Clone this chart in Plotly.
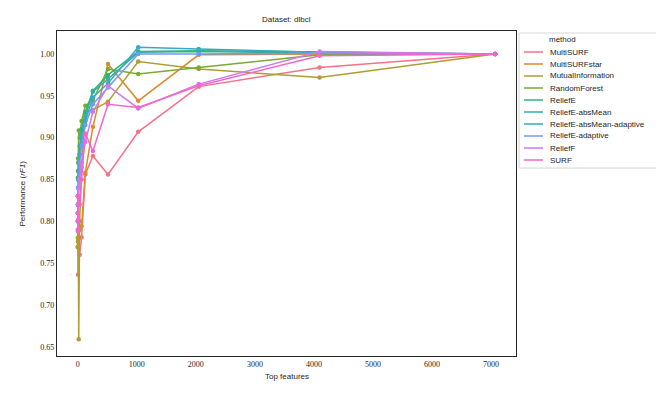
import plotly.graph_objects as go

# number of top features used
top_features = [1, 2, 4, 8, 16, 32, 64, 128, 256, 512, 1024, 2048, 4096, 7070]

methods = ["MultiSURF", "MultiSURFstar", "MutualInformation", "RandomForest", "ReliefE",
           "ReliefE-absMean", "ReliefE-absMean-adaptive", "ReliefE-adaptive", "ReliefF", "SURF"]

multisurf = [0.79, 0.80, 0.736, 0.77, 0.78, 0.760, 0.781, 0.856, 0.878, 0.856, 0.907, 0.961, 0.984, 1.0]
multisurfstar = [0.77, 0.78, 0.79, 0.80, 0.78, 0.79, 0.794, 0.858, 0.913, 0.988, 0.944, 0.999, 1.0, 1.0]
mutual_information = [0.769, 0.776, 0.78, 0.79, 0.659, 0.80, 0.865, 0.931, 0.933, 0.943, 0.991, 0.982, 0.972, 1.0]
random_forest = [0.852, 0.86, 0.875, 0.87, 0.9085, 0.90, 0.92, 0.938, 0.945, 0.982, 0.976, 0.984, 0.999, 1.0]
reliefe = [0.82, 0.83, 0.84, 0.85, 0.87, 0.89, 0.91, 0.93, 0.956, 0.975, 1.003, 1.004, 1.002, 1.0]
reliefe_absmean = [0.81, 0.82, 0.83, 0.85, 0.86, 0.88, 0.90, 0.925, 0.955, 0.970, 1.002, 1.003, 1.001, 1.0]
reliefe_absmean_adaptive = [0.80, 0.81, 0.83, 0.84, 0.86, 0.88, 0.90, 0.92, 0.948, 0.965, 1.008, 1.006, 1.002, 1.0]
reliefe_adaptive = [0.80, 0.81, 0.82, 0.84, 0.85, 0.87, 0.89, 0.915, 0.94, 0.96, 1.000, 1.000, 1.001, 1.0]
relieff = [0.79, 0.80, 0.82, 0.83, 0.84, 0.85, 0.87, 0.895, 0.931, 0.962, 0.935, 0.964, 1.003, 1.0]
surf = [0.83, 0.788, 0.81, 0.802, 0.83, 0.82, 0.85, 0.905, 0.884, 0.940, 0.936, 0.962, 0.998, 1.0]

series = [multisurf, multisurfstar, mutual_information, random_forest, reliefe,
          reliefe_absmean, reliefe_absmean_adaptive, reliefe_adaptive, relieff, surf]

# seaborn husl palette, 10 colours
colors = ["#f77189", "#dc8932", "#ae9d31", "#77ab31", "#33b07a",
          "#36ada4", "#38a9c5", "#6e9bf4", "#cc7af4", "#f565cc"]

# the page body has an 8px margin, so the figure is shrunk and shifted by it
OFF = 8
W, H = 664 - OFF, 399 - OFF
L, R, T, B = 57, 516, 31, 356   # plot area in screen pixels
ink = "#262626"
serif = "Liberation Serif"
sans = "Liberation Sans"


def px(x):
    return (x - L) / (R - L)


def py(y):
    return (B - y) / (B - T)


fig = go.Figure()
for name, vals, col in zip(methods, series, colors):
    fig.add_trace(go.Scatter(x=top_features, y=vals, name=name,
                             mode="lines+markers",
                             line=dict(color=col, width=1.5),
                             marker=dict(color=col, size=4.5)))

# compact legend (plotly's own legend rows are too tall)
shapes = [dict(type="rect", xref="paper", yref="paper",
               x0=px(519), x1=px(660), y0=py(168), y1=py(33),
               line=dict(color="#d6d6d6", width=1), fillcolor="white", layer="above")]
annotations = [dict(text="method", xref="paper", yref="paper", x=px(547), y=py(40),
                    xanchor="left", yanchor="middle", showarrow=False,
                    font=dict(family=sans, size=8, color=ink))]
for i, (name, col) in enumerate(zip(methods, colors)):
    yy = py(52 + 12 * i)
    shapes.append(dict(type="line", xref="paper", yref="paper", x0=px(524), x1=px(543),
                       y0=yy, y1=yy, line=dict(color=col, width=1.5), layer="above"))
    annotations.append(dict(text=name, xref="paper", yref="paper", x=px(548), y=yy,
                            xanchor="left", yanchor="middle", showarrow=False,
                            font=dict(family=sans, size=8, color=ink)))

# axis titles and title as annotations to sit where the reference puts them
annotations.append(dict(text="Top features", xref="paper", yref="paper", x=0.5, y=py(376),
                        xanchor="center", yanchor="middle", showarrow=False,
                        font=dict(family=sans, size=8, color=ink)))
annotations.append(dict(text="Performance (<i>rF1</i>)", xref="paper", yref="paper", x=px(22), y=0.5,
                        xanchor="center", yanchor="middle", textangle=-90, showarrow=False,
                        font=dict(family=sans, size=8, color=ink)))
annotations.append(dict(text="Dataset: dlbcl", xref="paper", yref="paper", x=0.5, y=py(20),
                        xanchor="center", yanchor="middle", showarrow=False,
                        font=dict(family=sans, size=8, color=ink)))

fig.update_layout(
    width=W, height=H,
    paper_bgcolor="white", plot_bgcolor="white",
    margin=dict(l=L - OFF, r=W - (R - OFF), t=T - OFF, b=H - (B - OFF), autoexpand=False),
    showlegend=False,
    shapes=shapes,
    annotations=annotations,
)

fig.update_xaxes(range=[-352, 7423], dtick=1000, tick0=0, showgrid=False, zeroline=False,
                 showline=True, mirror=True, linecolor=ink, linewidth=1.25,
                 ticks="", tickfont=dict(family=serif, size=8, color=ink), automargin=False)
fig.update_yaxes(range=[0.639, 1.0275], dtick=0.05, tick0=0.65, tickformat=".2f", showgrid=False, zeroline=False,
                 showline=True, mirror=True, linecolor=ink, linewidth=1.25,
                 ticks="", tickfont=dict(family=serif, size=8, color=ink), automargin=False)

fig.write_html("out.html")
